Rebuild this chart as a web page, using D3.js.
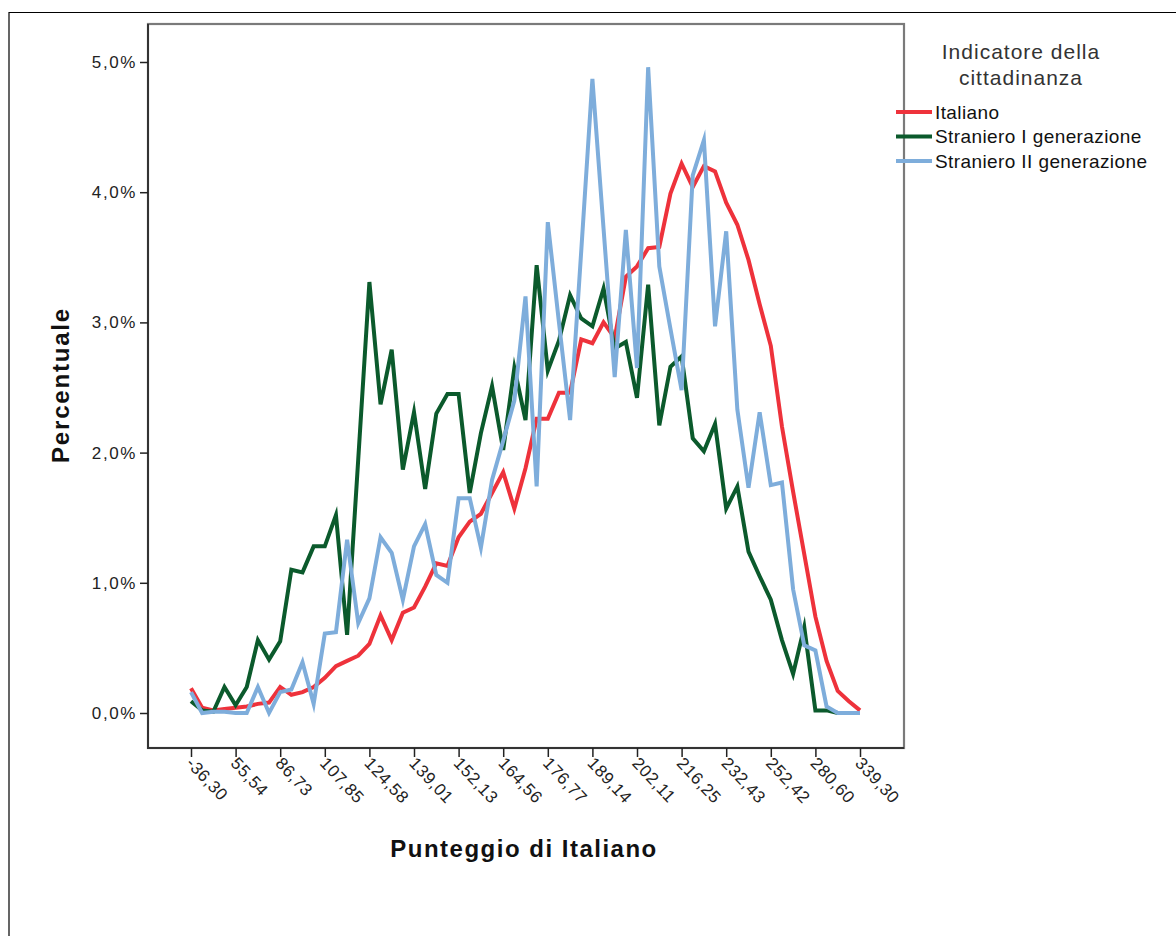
<!DOCTYPE html>
<html><head><meta charset="utf-8">
<script src="https://cdn.jsdelivr.net/npm/d3@7/dist/d3.min.js"></script>
<style>
body{margin:0;background:#fff;}
svg{display:block;}
text{font-family:"Liberation Sans",Arial,sans-serif;}
</style>
</head><body>
<svg id="chart" width="1176" height="936"></svg>
<script>
// ---- data ----
const tickLabels = ["-36,30","55,54","86,73","107,85","124,58","139,01","152,13","164,56",
  "176,77","189,14","202,11","216,25","232,43","252,42","280,60","339,30"];
const italiano = [0.19,0.04,0.02,0.03,0.04,0.05,0.07,0.08,0.20,0.14,
  0.16,0.20,0.27,0.36,0.40,0.44,0.53,0.75,0.56,0.77,
  0.81,0.97,1.15,1.13,1.35,1.47,1.53,1.69,1.85,1.57,
  1.88,2.26,2.26,2.46,2.46,2.87,2.84,3.00,2.88,3.35,
  3.43,3.57,3.58,3.99,4.22,4.04,4.20,4.16,3.92,3.75,
  3.48,3.14,2.82,2.20,1.70,1.22,0.74,0.40,0.17,0.09,0.02];
const stranieroI = [0.09,0.02,0.01,0.20,0.06,0.20,0.56,0.41,0.55,1.10,
  1.08,1.28,1.28,1.52,0.60,1.95,3.31,2.37,2.79,1.87,
  2.31,1.72,2.30,2.45,2.45,1.69,2.15,2.51,2.02,2.65,
  2.25,3.44,2.63,2.86,3.21,3.03,2.97,3.26,2.80,2.85,
  2.42,3.29,2.21,2.66,2.74,2.11,2.01,2.22,1.57,1.74,
  1.24,1.05,0.87,0.56,0.30,0.66,0.02,0.02,0.00,0.00,0.00];
const stranieroII = [0.16,0.00,0.01,0.01,0.00,0.00,0.20,0.00,0.16,0.18,
  0.39,0.07,0.61,0.62,1.33,0.69,0.88,1.35,1.23,0.87,
  1.28,1.45,1.06,1.00,1.65,1.65,1.27,1.79,2.09,2.40,
  3.20,1.74,3.77,3.00,2.25,3.55,4.87,3.72,2.58,3.71,
  2.65,4.96,3.43,2.95,2.48,4.13,4.40,2.97,3.70,2.33,
  1.73,2.31,1.75,1.77,0.95,0.52,0.48,0.05,0.00,0.00,0.00];
const seriesNames = ["Italiano","Straniero I generazione","Straniero II generazione"];
const seriesColors = ["#ee323b","#0b5a2c","#7eaddb"];
const yTicks = [0,1,2,3,4,5];
const legendTitle = ["Indicatore della","cittadinanza"];
const xTitle = "Punteggio di Italiano";
const yTitle = "Percentuale";

// ---- layout ----
const svg = d3.select("#chart");
const frame = {left:148, right:904, top:24, bottom:748};
const categories = d3.range(italiano.length);
const x = d3.scalePoint().domain(categories).range([191, 860]);
const y = d3.scaleLinear().domain([0,5]).range([713, 62]);

// outer border
svg.append("path").attr("d","M9,936 L9,12.5 L1176,12.5")
  .attr("fill","none").attr("stroke","#000").attr("stroke-width",1.2);

// plot frame
svg.append("rect").attr("x",frame.left).attr("y",frame.top)
  .attr("width",frame.right-frame.left).attr("height",frame.bottom-frame.top)
  .attr("fill","#fff").attr("stroke","#7a7a7a").attr("stroke-width",2.2);
svg.append("path")
  .attr("d",`M${frame.left},${frame.top} L${frame.left},${frame.bottom} L${frame.right},${frame.bottom}`)
  .attr("fill","none").attr("stroke","#333").attr("stroke-width",2);

// y axis
const yAxis = d3.axisLeft(y).tickValues(yTicks).tickSize(8).tickPadding(3)
  .tickFormat(d => d.toFixed(1).replace(".", ",") + "%");
const gy = svg.append("g").attr("transform",`translate(${frame.left},0)`).call(yAxis);
gy.select(".domain").remove();
gy.selectAll(".tick line").attr("stroke","#222").attr("stroke-width",1.5);
gy.selectAll(".tick text").attr("fill","#222").style("font-size","17px").style("letter-spacing","1.6px");

// x axis
const xAxis = d3.axisBottom(x).tickValues(categories.filter((d,i)=> i%4===0)).tickSize(9)
  .tickFormat(d => tickLabels[d/4]);
const gx = svg.append("g").attr("transform",`translate(0,${frame.bottom})`).call(xAxis);
gx.select(".domain").remove();
gx.selectAll(".tick line").attr("stroke","#222").attr("stroke-width",1.5);
gx.selectAll(".tick text").attr("fill","#222").style("font-size","17px").style("letter-spacing","0.6px")
  .attr("text-anchor","start").attr("dy",null).attr("y",null)
  .attr("transform","translate(-3,13) rotate(47)").attr("dominant-baseline","middle");

// lines
const line = d3.line().x((d,i)=>x(i)).y(d=>y(d));
const allSeries = [italiano, stranieroI, stranieroII];
svg.append("g").selectAll("path").data(allSeries).join("path")
  .attr("d", line).attr("fill","none")
  .attr("stroke",(d,i)=>seriesColors[i]).attr("stroke-width",4)
  .attr("stroke-linejoin","miter").attr("stroke-miterlimit",6);

// axis titles
svg.append("text").attr("x",524).attr("y",857).attr("text-anchor","middle")
  .style("font-size","24px").style("font-weight","bold").style("letter-spacing","1.5px").attr("fill","#111").text(xTitle);
svg.append("text").attr("transform","translate(69,385) rotate(-90)").attr("text-anchor","middle")
  .style("font-size","24px").style("font-weight","bold").style("letter-spacing","1.8px").attr("fill","#111").text(yTitle);

// legend
const lg = svg.append("g");
lg.selectAll("text.lt").data(legendTitle).join("text").attr("class","lt")
  .attr("x",1021).attr("y",(d,i)=>59+i*26).attr("text-anchor","middle")
  .style("font-size","21px").style("letter-spacing","1px").attr("fill","#333").text(d=>d);
const items = lg.selectAll("g.item").data(seriesNames).join("g").attr("class","item")
  .attr("transform",(d,i)=>`translate(896,${112+i*24.5})`);
items.append("line").attr("x1",0).attr("x2",36).attr("y1",0).attr("y2",0)
  .attr("stroke",(d,i)=>seriesColors[i]).attr("stroke-width",4);
items.append("text").attr("x",39).attr("y",0).attr("dy","0.36em")
  .style("font-size","19px").style("letter-spacing","0.4px").attr("fill","#111").text(d=>d);
</script>
</body></html>
